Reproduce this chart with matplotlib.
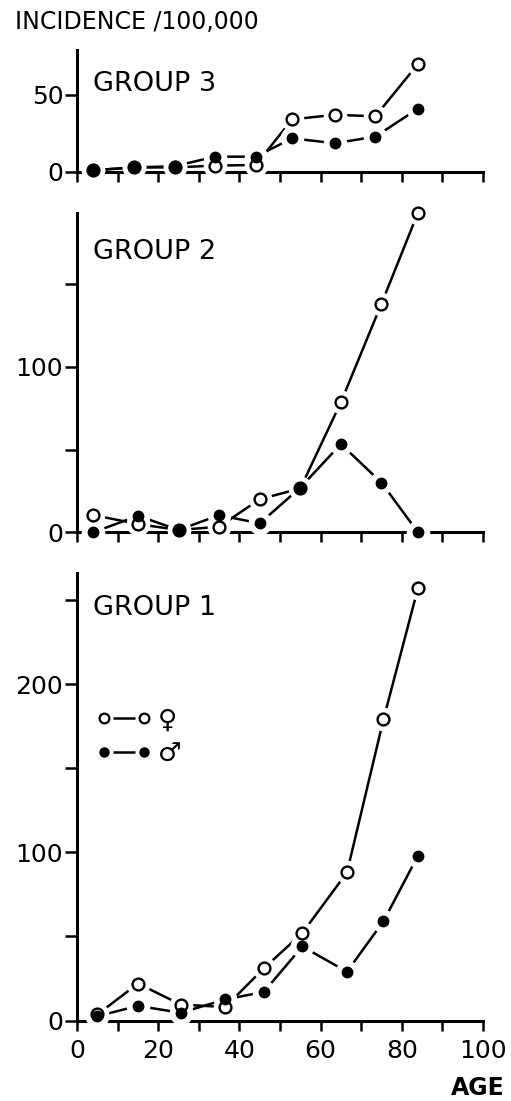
import matplotlib
matplotlib.use("Agg")
import matplotlib.pyplot as plt
from matplotlib.lines import Line2D
from matplotlib.legend_handler import HandlerTuple

plt.rcParams['font.family'] = ['DejaVu Sans']

# group 3 (top)
ages_g3 = [4, 14, 24, 34, 44, 53, 63.5, 73.5, 84]
fem_g3 = [1, 2.8, 2.8, 4, 4.4, 34, 37, 36, 70]
male_g3 = [1, 2.8, 3.6, 9.8, 9.8, 21.7, 18.5, 22.8, 41]

# group 2 (middle)
ages_g2 = [4, 15, 25, 35, 45, 55, 65, 75, 84]
fem_g2 = [10.4, 5, 1.4, 3.4, 20, 26.5, 78.5, 138, 193]
male_g2 = [0, 10, 1.4, 10.4, 5.4, 27, 53.3, 30, 0]

# group 1 (bottom)
ages_g1 = [5, 15, 25.5, 36.5, 46, 55.5, 66.5, 75.5, 84]
fem_g1 = [3.6, 22, 9.5, 8, 31, 52, 88, 179, 257]
male_g1 = [2.6, 8.7, 4.6, 12.5, 17, 44, 29, 59, 98]

x_ticks = [0, 20, 40, 60, 80, 100]
sex_labels = ['\u2640', '\u2642']

W, H = 511, 1101
fig = plt.figure(figsize=(W / 100, H / 100), dpi=100)

LW = 1.8
SPW = 2.2


def panel(rect, ages, fem, male, ymax, major, minor, name, name_y, show_x):
    ax = fig.add_axes(rect)
    for vals in (fem, male):
        ax.plot(ages, vals, color='black', lw=LW, zorder=2, clip_on=False)
        # white halo -> gap between line and marker
        ax.plot(ages, vals, ls='none', marker='o', ms=16, mfc='white', mec='white',
                zorder=3, clip_on=False)
    ax.plot(ages, fem, ls='none', marker='o', ms=8.5, mfc='white', mec='black',
            mew=1.7, zorder=4, clip_on=False)
    ax.plot(ages, male, ls='none', marker='o', ms=7.5, mfc='black', mec='black',
            zorder=5, clip_on=False)
    ax.set_xlim(0, 100)
    ax.set_ylim(0, ymax)
    for s in ['top', 'right']:
        ax.spines[s].set_visible(False)
    for s in ['left', 'bottom']:
        ax.spines[s].set_linewidth(SPW)
    ax.set_yticks(major)
    ax.set_yticks(minor, minor=True)
    if show_x:
        ax.set_xticks(x_ticks)
        ax.set_xticks(range(10, 100, 20), minor=True)
        ax.set_xticklabels([str(v) for v in x_ticks])
    else:
        ax.set_xticks(range(0, 101, 10))
        ax.set_xticklabels([])
    ax.tick_params(axis='y', which='both', direction='out', length=9, width=1.8,
                   labelsize=18, pad=1)
    ax.tick_params(axis='x', which='both', direction='out', length=7, width=1.8,
                   labelsize=18, pad=6)
    ax.text(0.04, name_y, name, transform=ax.transAxes, ha='left', va='top',
            fontsize=19.5)
    return ax


ax3 = panel([0.151, 0.844, 0.794, 0.1105], ages_g3, fem_g3, male_g3, 79,
            [0, 50], [], 'GROUP 3', 0.83, False)
ax2 = panel([0.151, 0.5165, 0.794, 0.2897], ages_g2, fem_g2, male_g2, 192.6,
            [0, 100], [50, 150], 'GROUP 2', 0.92, False)
ax1 = panel([0.151, 0.0731, 0.794, 0.4065], ages_g1, fem_g1, male_g1, 266,
            [0, 100, 200], [50, 150, 250], 'GROUP 1', 0.95, True)


def key(filled):
    ln = Line2D([], [], color='black', lw=LW)
    halo = Line2D([], [], ls='none', marker='o', ms=12, mfc='white', mec='white')
    if filled:
        mk = Line2D([], [], ls='none', marker='o', ms=6.5, mfc='black', mec='black')
    else:
        mk = Line2D([], [], ls='none', marker='o', ms=7, mfc='white', mec='black', mew=1.6)
    return (ln, halo, mk)


ax1.legend([key(False), key(True)], sex_labels, loc='upper left',
           bbox_to_anchor=(-0.012, 0.752), frameon=False, numpoints=2,
           handlelength=2.1, handletextpad=0.25, labelspacing=0.3,
           handler_map={tuple: HandlerTuple(ndivide=1, pad=0)},
           prop={'family': ['DejaVu Sans'], 'size': 19})

fig.text(15 / W, 1 - 22 / H, 'INCIDENCE /100,000', ha='left', va='center', fontsize=17)
fig.text(505 / W, 1 - 1088 / H, 'AGE', ha='right', va='center', fontsize=17,
         fontweight='bold')

fig.savefig('out.png', dpi=100)
